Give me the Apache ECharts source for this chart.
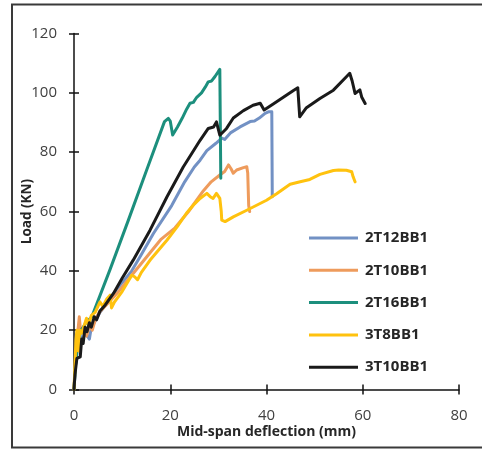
<!DOCTYPE html>
<html>
<head>
<meta charset="utf-8">
<script src="https://cdn.jsdelivr.net/npm/echarts@6/dist/echarts.min.js"></script>
<style>
  html, body { margin: 0; padding: 0; background: #fff; }
  #chart { width: 482px; height: 451px; }
</style>
</head>
<body>
<div id="chart"></div>
<script>
// Load vs mid-span deflection for five beam specimens: [deflection (mm), load (kN)]
const s2T12BB1 = [[0,0],[0.3,8],[0.8,15],[1.3,18],[1.8,16.5],[2.3,20],[2.8,18],[3.2,17],[3.6,21],[4.2,22.5],[5.4,26],[7,29.5],[9,34],[12,40],[14,45.5],[16.5,52.6],[20.3,62],[23,70],[25,75],[26.2,77.3],[27.6,80.5],[29.5,83],[30.7,84.7],[31.3,84.3],[32.5,86.5],[34.5,88.5],[36.6,90.3],[37.5,90.5],[38.5,91.5],[39.7,93.1],[40.4,93.6],[41.1,93.6],[41.2,65]];
const s2T10BB1 = [[0,0],[0.3,10],[0.7,18],[1.1,24.5],[1.4,19],[2,21],[2.6,18],[3.2,21.5],[3.8,20],[4.5,24],[5.5,26.5],[7,29],[9,32.5],[12,38.5],[15,44.5],[18,50.5],[21,54.5],[23.8,60],[26.9,67],[28.5,70],[30.3,72.3],[31.3,73.5],[32.1,75.7],[32.6,74.5],[33.1,72.9],[33.8,74],[35.2,74.8],[35.9,75.1],[36.1,73],[36.3,62],[36.5,60]];
const s2T16BB1 = [[0,0],[0.3,8],[0.8,16],[1.5,20],[2.5,22.5],[3.7,24.5],[7.5,40.5],[11.3,57.1],[15.1,74],[18.8,90.3],[19.6,91.4],[20,90.5],[20.5,85.8],[21.5,88.5],[22.5,91.5],[23.4,94.5],[24.1,96.5],[24.8,96.8],[25.5,98.5],[26.5,100],[27.3,102],[27.9,103.7],[28.6,104],[29.3,105.5],[30.3,107.9],[30.4,90],[30.5,71.2]];
const s3T8BB1 = [[0,0],[0.2,8],[0.4,16.6],[0.6,20],[0.9,13],[1.2,20],[1.6,19],[2.2,22],[2.6,24],[3,21.5],[3.6,25],[4.4,26],[5.4,29.5],[6,28],[6.8,30.5],[7.5,31.8],[7.8,27.5],[8.4,29.5],[10,33],[12,38.5],[12.6,38],[13.2,37],[14,39.5],[16,44],[19.3,50.3],[21.5,55],[23.4,59.5],[25,62.5],[26.2,64.4],[27.6,66.1],[28.3,65],[28.9,64.4],[29.6,66.1],[30.3,64.4],[30.6,60],[30.7,57.1],[31.4,56.6],[33.1,58.2],[36,60.5],[40,63.8],[42.1,66],[44.9,69.2],[47,70],[49,70.8],[51.1,72.5],[53.9,73.8],[55,74],[56.6,73.9],[57.7,73.4],[58,71.7],[58.4,70]];
const s3T10BB1 = [[0,0],[0.2,5],[0.6,10.5],[1.3,11],[1.6,17],[1.9,15.5],[2.3,21],[2.7,19.5],[3.2,22.5],[3.6,21],[4.2,24.5],[4.7,23.5],[5.4,26.5],[6.5,28.5],[8.2,32.4],[10,37.5],[12.3,43.6],[15.8,53.7],[19.3,64.9],[22.7,75],[26.2,84],[27.9,88],[29,88.5],[29.6,90.2],[30.3,85.7],[31.7,88],[33.1,91.5],[35.2,94],[37.2,95.8],[38.7,96.5],[39.5,94.2],[41.4,96.2],[43.5,98.5],[45.6,100.8],[46.5,101.7],[46.9,91.9],[48.3,95],[51.1,98.1],[53.9,100.9],[56.6,105.4],[57.3,106.6],[57.8,104],[58.4,99.8],[59.4,101],[59.8,98.5],[60.5,96.4]];

const seriesNames = ['2T12BB1', '2T10BB1', '2T16BB1', '3T8BB1', '3T10BB1'];
const seriesData = [s2T12BB1, s2T10BB1, s2T16BB1, s3T8BB1, s3T10BB1];
const seriesColors = ['#7291c4', '#ee9b5c', '#1c8f7d', '#ffc20e', '#1a1a1a'];

const xTicks = { min: 0, max: 80, interval: 20 };
const yTicks = { min: 0, max: 120, interval: 20 };

const FONT = 'Open Sans';
const chart = echarts.init(document.getElementById('chart'), null, { renderer: 'canvas' });

const tickStyle = { color: '#111', width: 1.5 };

chart.setOption({
  animation: false,
  backgroundColor: '#fff',
  graphic: [{
    type: 'rect',
    shape: { x: 12, y: 4.5, width: 478, height: 443 },
    style: { fill: null, stroke: '#3a3a3a', lineWidth: 2 },
    silent: true
  }],
  grid: { left: 74, right: 23, top: 33.5, bottom: 61.5 },
  legend: {
    orient: 'vertical',
    left: 304,
    top: 225,
    icon: 'rect',
    itemWidth: 49,
    itemHeight: 3,
    itemGap: 16.3,
    data: seriesNames,
    textStyle: { fontFamily: FONT, fontWeight: 'bold', fontSize: 15, color: '#262626', lineHeight: 16, padding: [0, 0, 0, 2] }
  },
  xAxis: [{
    type: 'value', min: xTicks.min, max: xTicks.max, interval: xTicks.interval,
    name: 'Mid-span deflection (mm)', nameLocation: 'middle', nameGap: 36, nameMoveOverlap: false,
    nameTextStyle: { fontFamily: FONT, fontWeight: 'bold', fontSize: 14, color: '#262626' },
    axisLine: { lineStyle: { color: '#111', width: 1.5 } },
    axisTick: { length: 5, lineStyle: tickStyle },
    axisLabel: { fontFamily: FONT, fontSize: 15, color: '#404040', margin: 19 },
    splitLine: { show: false }
  }, {
    type: 'value', position: 'bottom', min: xTicks.min, max: xTicks.max, interval: xTicks.interval,
    axisLine: { show: false },
    axisTick: { inside: true, length: 5, lineStyle: tickStyle },
    axisLabel: { show: false },
    splitLine: { show: false }
  }],
  yAxis: [{
    type: 'value', min: yTicks.min, max: yTicks.max, interval: yTicks.interval,
    name: 'Load (KN)', nameLocation: 'middle', nameGap: 40, nameMoveOverlap: false,
    nameTextStyle: { fontFamily: FONT, fontWeight: 'bold', fontSize: 13.5, color: '#262626' },
    axisLine: { lineStyle: { color: '#111', width: 1.5 } },
    axisTick: { length: 5, lineStyle: tickStyle },
    axisLabel: { fontFamily: FONT, fontSize: 15, color: '#404040', margin: 17 },
    splitLine: { show: false }
  }, {
    type: 'value', position: 'left', min: yTicks.min, max: yTicks.max, interval: yTicks.interval,
    axisLine: { show: false },
    axisTick: { inside: true, length: 5, lineStyle: tickStyle },
    axisLabel: { show: false },
    splitLine: { show: false }
  }],
  series: seriesNames.map((name, i) => ({
    name: name,
    type: 'line',
    data: seriesData[i],
    showSymbol: false,
    symbol: 'none',
    lineStyle: { color: seriesColors[i], width: 3, join: 'round', cap: 'round' },
    itemStyle: { color: seriesColors[i] },
    z: 2 + i
  }))
});
</script>
</body>
</html>
